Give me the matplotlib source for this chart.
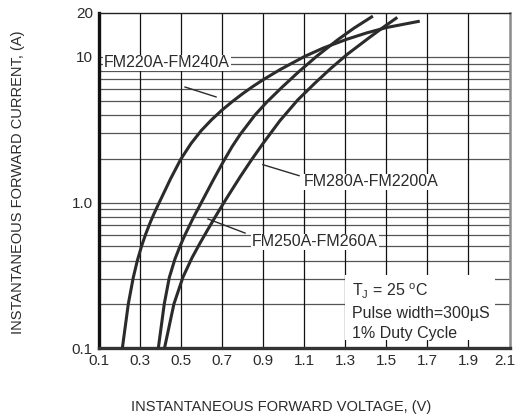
import matplotlib
matplotlib.use('Agg')
import matplotlib.pyplot as plt
import matplotlib.transforms as mtransforms
from matplotlib.patches import Rectangle

# forward characteristics (V, A)
v_a = [0.216, 0.245, 0.269, 0.289, 0.310, 0.330, 0.351, 0.367, 0.383, 0.404,
       0.450, 0.500, 0.550, 0.600, 0.650, 0.700, 0.750, 0.800, 0.850, 0.900,
       0.983, 1.105, 1.194, 1.308, 1.405, 1.502, 1.656]
i_a = [0.100, 0.2015, 0.305, 0.400, 0.505, 0.610, 0.726, 0.820, 0.919, 1.06,
       1.45, 1.98, 2.54, 3.12, 3.70, 4.30, 4.92, 5.57, 6.25, 6.95,
       8.17, 10.1, 11.5, 13.2, 14.6, 15.9, 17.5]
v_b = [0.391, 0.420, 0.4445, 0.472, 0.4966, 0.521, 0.561, 0.606, 0.655, 0.707,
       0.750, 0.789, 0.8615, 0.918, 0.991, 1.072, 1.162, 1.264, 1.342, 1.429]
i_b = [0.100, 0.2015, 0.306, 0.410, 0.502, 0.601, 0.785, 1.035, 1.40, 1.905,
       2.42, 2.93, 3.99, 4.88, 6.15, 7.85, 10.1, 13.1, 15.7, 18.8]
v_c = [0.421, 0.467, 0.511, 0.555, 0.594, 0.633, 0.680, 0.725, 0.789, 0.845,
       0.901, 0.983, 1.070, 1.154, 1.230, 1.310, 1.422, 1.495, 1.548]
i_c = [0.100, 0.2014, 0.308, 0.418, 0.527, 0.657, 0.851, 1.08, 1.50, 1.97,
       2.55, 3.65, 5.07, 6.62, 8.32, 10.4, 13.7, 16.3, 18.4]

labels = ['FM220A-FM240A', 'FM250A-FM260A', 'FM280A-FM2200A']
label_xy = [(0.127, 9.08), (0.847, 0.537), (1.100, 1.385)]
leader_x = [(0.521, 0.672), (0.633, 0.813), (0.900, 1.076)]
leader_y = [(6.21, 5.31), (0.772, 0.618), (1.82, 1.53)]
note = 'T$_\\mathregular{J}$ = 25 $^\\mathregular{o}$C\nPulse width=300\u00b5S\n1% Duty Cycle'

xticks = [0.1, 0.3, 0.5, 0.7, 0.9, 1.1, 1.3, 1.5, 1.7, 1.9, 2.1]
yticks = [0.1, 1.0, 10, 20]
ytick_labels = ['0.1', '1.0', '10', '20']
ygrid = [0.2, 0.3, 0.4, 0.5, 0.6, 0.7, 0.8, 0.9, 1.0,
         2, 3, 4, 5, 6, 7, 8, 9, 10]

plt.rcParams['font.family'] = ['Liberation Sans', 'DejaVu Sans']
ink = '#2b2b2b'

fig = plt.figure(figsize=(5.16, 4.16), dpi=100)
ax = fig.add_axes([98.5 / 516, 67.7 / 416, 411 / 516, 335.3 / 416])
ax.set_yscale('log')
ax.set_xlim(0.1, 2.1)
ax.set_ylim(0.1, 20)

for y in ygrid:
    ax.axhline(y, color='#555555', lw=0.9, zorder=1)
for x in xticks[1:-1]:
    ax.axvline(x, color='#111111', lw=0.9, zorder=1)

# blank panel behind the test-condition note
ax.add_patch(Rectangle((0.600, 0.025), 0.365, 0.194, transform=ax.transAxes,
                       fc='white', ec='none', zorder=2))

for v, i in [(v_a, i_a), (v_b, i_b), (v_c, i_c)]:
    ax.plot(v, i, color=ink, lw=2.2, solid_joinstyle='round', zorder=4)

for (tx, ty), lx, ly, lab in zip(label_xy, leader_x, leader_y, labels):
    ax.plot(lx, ly, color=ink, lw=1.0, zorder=3)
    ax.text(tx, ty, lab, fontsize=11.5, color=ink, va='center', ha='left', zorder=3,
            bbox=dict(fc='white', ec='none', pad=0.5))

ax.text(0.617, 0.111, note, transform=ax.transAxes, fontsize=11.5, color=ink,
        va='center', ha='left', linespacing=1.4, zorder=3)

ax.set_xticks(xticks)
ax.set_xticklabels([f'{x:.1f}' for x in xticks])
ax.set_yticks(yticks)
ax.set_yticklabels(ytick_labels)
ax.minorticks_off()
ax.tick_params(length=0, pad=4, labelsize=11, colors=ink)
# the last voltage label sits against the picture edge
last = ax.get_xticklabels()[-1]
last.set_transform(last.get_transform() +
                   mtransforms.ScaledTranslation(-5 / 100, 0, fig.dpi_scale_trans))

ax.spines['left'].set_linewidth(2.4)
ax.spines['left'].set_color('#111111')
ax.spines['bottom'].set_linewidth(2.4)
ax.spines['bottom'].set_color('#333333')
ax.spines['right'].set_linewidth(1.8)
ax.spines['right'].set_color('#8a8a8a')
ax.spines['top'].set_linewidth(1.0)
ax.spines['top'].set_color('#222222')

fig.text(281 / 516, 1 - 407 / 416, 'INSTANTANEOUS FORWARD VOLTAGE, (V)', fontsize=10.5,
         color=ink, ha='center', va='center')
fig.text(18 / 516, 1 - 182 / 416, 'INSTANTANEOUS FORWARD CURRENT, (A)', fontsize=10.5,
         color=ink, ha='center', va='center', rotation=90)

fig.savefig('out.png', dpi=100)
